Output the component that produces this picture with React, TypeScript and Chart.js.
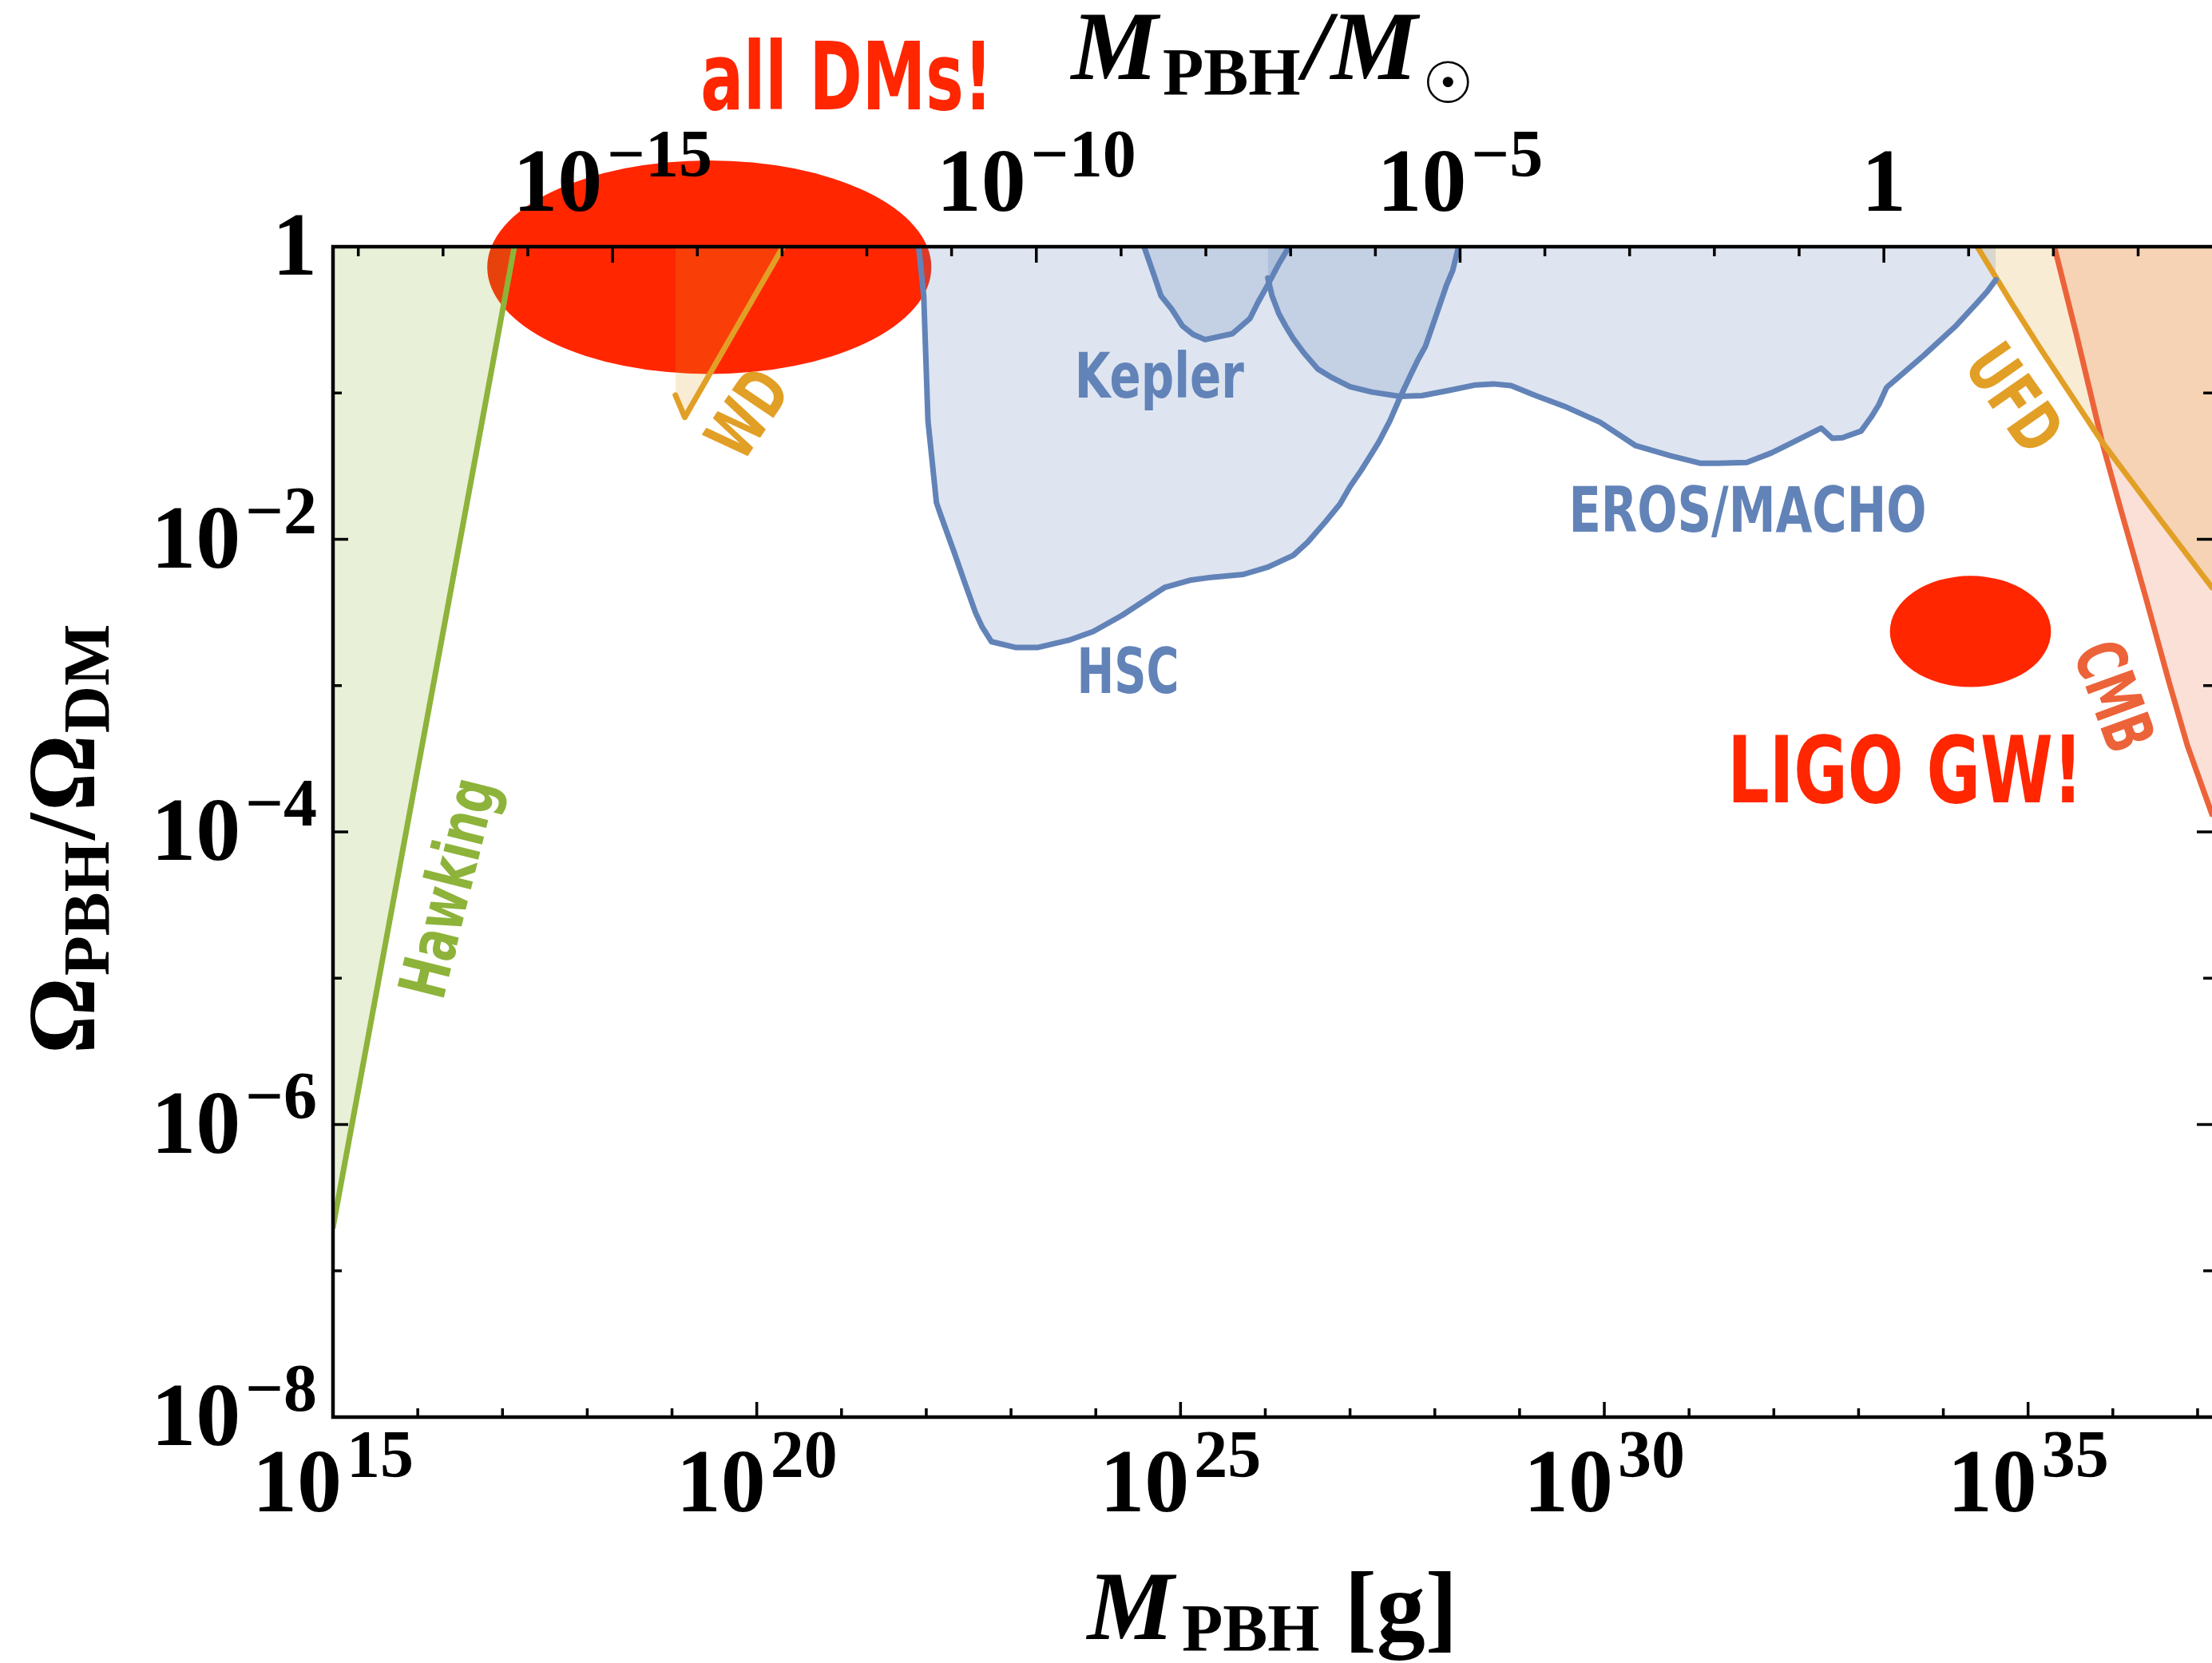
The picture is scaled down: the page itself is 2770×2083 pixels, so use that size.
import React, { useEffect, useRef } from "react";
import { Chart, registerables } from "chart.js";

Chart.register(...registerables);

// ---------------- values (log10 units) ----------------
const LOG_MSUN_G = 33.2986; // log10 of one solar mass in grams

const xMinExp = 15;
const xMaxExp = 37.17;
const yMinExp = -8;
const yMaxExp = 0;

const bottomTickExps = [15, 16, 17, 18, 19, 20, 21, 22, 23, 24, 25, 26, 27, 28, 29, 30, 31, 32, 33, 34, 35, 36, 37];
const bottomLabelExps = [15, 20, 25, 30, 35];
const topTickExps = [-18, -17, -16, -15, -14, -13, -12, -11, -10, -9, -8, -7, -6, -5, -4, -3, -2, -1, 0, 1, 2, 3];
const topLabelExps = [-15, -10, -5, 0];
const yTickExps = [-8, -7, -6, -5, -4, -3, -2, -1, 0];
const yLabelExps = [0, -2, -4, -6, -8];

// Hawking evaporation
const hawkingLogM = [15.0, 17.14];
const hawkingLogF = [-6.7, 0.0];

// White dwarfs
const wdLogM = [19.04, 19.15, 20.31];
const wdLogF = [-1.015, -1.166, 0.0];

// Subaru HSC
const hscLogM = [21.91, 21.97, 22.02, 22.12, 22.18, 22.33, 22.45, 22.58, 22.66, 22.77, 23.06, 23.31, 23.68, 23.97, 24.31, 24.81, 25.11, 25.36, 25.74, 26.03, 26.33, 26.5, 26.71, 26.88, 27.0, 27.13, 27.26, 27.34, 27.47, 27.59, 27.72, 27.8, 27.89, 28.01, 28.14, 28.21, 28.28];
const hscLogF = [0.0, -0.336, -1.19, -1.75, -1.85, -2.09, -2.29, -2.5, -2.6, -2.7, -2.74, -2.74, -2.69, -2.63, -2.52, -2.33, -2.28, -2.26, -2.24, -2.19, -2.11, -2.02, -1.88, -1.76, -1.64, -1.53, -1.41, -1.335, -1.19, -1.03, -0.87, -0.775, -0.68, -0.48, -0.26, -0.165, 0.0];

// Kepler
const keplerLogM = [24.57, 24.69, 24.77, 24.9, 25.02, 25.15, 25.29, 25.61, 25.82, 25.91, 26.03, 26.16, 26.28];
const keplerLogF = [0.0, -0.2, -0.336, -0.43, -0.54, -0.6, -0.635, -0.595, -0.49, -0.385, -0.26, -0.117, 0.0];

// EROS / MACHO
const erosLogM = [26.03, 26.08, 26.16, 26.24, 26.33, 26.455, 26.62, 26.79, 27.0, 27.26, 27.59, 27.85, 28.18, 28.48, 28.69, 28.9, 29.19, 29.53, 29.95, 30.37, 30.79, 31.13, 31.34, 31.68, 31.97, 32.18, 32.56, 32.69, 32.81, 33.03, 33.15, 33.24, 33.33, 33.36, 33.77, 34.15, 34.4, 34.52, 34.62];
const erosLogF = [-0.214, -0.336, -0.458, -0.543, -0.628, -0.726, -0.836, -0.896, -0.957, -0.994, -1.023, -1.018, -0.981, -0.945, -0.938, -0.95, -1.018, -1.091, -1.2, -1.36, -1.43, -1.48, -1.48, -1.475, -1.41, -1.35, -1.24, -1.31, -1.306, -1.26, -1.164, -1.079, -0.963, -0.947, -0.743, -0.54, -0.383, -0.305, -0.226];

// Ultra-faint dwarfs
const ufdLogM = [34.4, 34.81, 35.15, 35.88, 36.5, 37.17];
const ufdLogF = [0.0, -0.39, -0.7, -1.34, -1.82, -2.33];

// CMB
const cmbLogM = [35.31, 35.57, 35.88, 36.1, 36.38, 36.66, 36.88, 37.17];
const cmbLogF = [0.0, -0.6, -1.35, -1.81, -2.38, -2.97, -3.41, -3.88];

// Highlighted regions (centre [logM, logF], half-extent in decades [x, y])
const allDmCenter = [19.44, -0.14];
const allDmHalfSize = [2.62, 0.73];
const ligoCenter = [34.32, -2.63];
const ligoHalfSize = [0.95, 0.38];

// ---------------- styling ----------------
const W = 2770;
const H = 2083;
const RED = "#ff2600";
const GREEN = "#8db33a";
const BLUE = "#6283b8";
const ORANGE = "#e29f26";
const CMBC = "#ec6339";
const SERIF = '"Liberation Serif", "Times New Roman", serif';
const NARROW = '"Liberation Sans Narrow", "DejaVu Sans Condensed", "DejaVu Sans", sans-serif';
const LINE_W = 7;

type Lbl = { text: string; at: [number, number]; color: string; size: number; angle: number; mid: number; width: number };
const textLabels: Lbl[] = [
  { text: "all DMs!", at: [21.06, 0.939], color: RED, size: 118, angle: 0, mid: 0, width: 366 },
  { text: "LIGO GW!", at: [33.55, -3.8], color: RED, size: 116, angle: 0, mid: 0, width: 445 },
  { text: "Kepler", at: [24.75, -1.031], color: BLUE, size: 78, angle: 0, mid: 0, width: 212 },
  { text: "HSC", at: [24.38, -3.05], color: BLUE, size: 78, angle: 0, mid: 0, width: 128 },
  { text: "EROS/MACHO", at: [31.69, -1.948], color: BLUE, size: 78, angle: 0, mid: 0, width: 448 },
  { text: "Hawking", at: [16.42, -4.39], color: GREEN, size: 82, angle: -76, mid: 0.26, width: 280 },
  { text: "WD", at: [19.88, -1.135], color: ORANGE, size: 86, angle: -56, mid: 0.365, width: 112 },
  { text: "UFD", at: [34.85, -1.03], color: ORANGE, size: 86, angle: 55, mid: 0.365, width: 142 },
  { text: "CMB", at: [36.03, -3.07], color: CMBC, size: 86, angle: 70, mid: 0.365, width: 140 },
];

const pts = (ms: number[], fs: number[]) => ms.map((m, i) => ({ x: Math.pow(10, m), y: Math.pow(10, fs[i]) }));
const alpha = (hex: string, a: number) => {
  const n = parseInt(hex.slice(1), 16);
  return `rgba(${(n >> 16) & 255},${(n >> 8) & 255},${n & 255},${a})`;
};

function region(label: string, ms: number[], fs: number[], color: string, a: number) {
  return {
    label,
    data: pts(ms, fs),
    borderColor: color,
    backgroundColor: alpha(color, a),
    borderWidth: LINE_W,
    borderJoinStyle: "round",
    borderCapStyle: "round",
    fill: "end",
    pointRadius: 0,
    tension: 0,
    xAxisID: "x",
    yAxisID: "y",
  };
}

function drawPower(ctx: CanvasRenderingContext2D, exp: number, x: number, baseline: number, align: "center" | "right") {
  const baseFont = `bold 112px ${SERIF}`;
  const supFont = `bold 84px ${SERIF}`;
  const base = exp === 0 ? "1" : "10";
  const sup = exp === 0 ? "" : exp < 0 ? "\u2212" + String(-exp) : String(exp);
  ctx.font = baseFont;
  const wb = ctx.measureText(base).width;
  ctx.font = supFont;
  const ws = sup ? ctx.measureText(sup).width : 0;
  const gap = sup ? 6 : 0;
  const total = wb + gap + ws;
  const x0 = align === "center" ? x - total / 2 : x - total;
  ctx.textAlign = "left";
  ctx.textBaseline = "alphabetic";
  ctx.font = baseFont;
  ctx.fillText(base, x0, baseline);
  if (sup) {
    ctx.font = supFont;
    ctx.fillText(sup, x0 + wb + gap, baseline - 43);
  }
}

type Seg = { text: string; font: string; dy: number; gap: number };
function drawSegments(ctx: CanvasRenderingContext2D, segs: Seg[], cx: number, baseline: number) {
  const widths = segs.map((s) => {
    ctx.font = s.font;
    return ctx.measureText(s.text).width;
  });
  const total = widths.reduce((a, w, i) => a + w + (i < segs.length - 1 ? segs[i].gap : 0), 0);
  let x = cx - total / 2;
  ctx.textAlign = "left";
  ctx.textBaseline = "alphabetic";
  segs.forEach((s, i) => {
    ctx.font = s.font;
    ctx.fillText(s.text, x, baseline + s.dy);
    x += widths[i] + s.gap;
  });
}

const decorPlugin = {
  id: "pbhDecor",
  beforeDraw(chart: any) {
    const ctx: CanvasRenderingContext2D = chart.ctx;
    const xs = chart.scales.x;
    const ys = chart.scales.y;
    ctx.save();
    ctx.fillStyle = "#ffffff";
    ctx.fillRect(0, 0, chart.width, chart.height);
    const ell = (c: number[], r: number[]) => {
      const cx = xs.getPixelForValue(Math.pow(10, c[0]));
      const rx = xs.getPixelForValue(Math.pow(10, c[0] + r[0])) - cx;
      const cy = ys.getPixelForValue(Math.pow(10, c[1]));
      const ry = cy - ys.getPixelForValue(Math.pow(10, c[1] + r[1]));
      ctx.beginPath();
      ctx.ellipse(cx, cy, rx, ry, 0, 0, Math.PI * 2);
      ctx.fillStyle = RED;
      ctx.fill();
    };
    ell(allDmCenter, allDmHalfSize);
    ell(ligoCenter, ligoHalfSize);
    ctx.restore();
  },
  afterDatasetsDraw(chart: any) {
    const ctx: CanvasRenderingContext2D = chart.ctx;
    const { left, right, top, bottom } = chart.chartArea;
    const xs = chart.scales.x;
    const x2 = chart.scales.x2;
    const ys = chart.scales.y;
    ctx.save();
    ctx.strokeStyle = "#000";
    ctx.fillStyle = "#000";

    // ticks (inward)
    ctx.lineWidth = 3.5;
    ctx.beginPath();
    xs.ticks.forEach((t: any) => {
      const p = xs.getPixelForValue(t.value);
      const len = t.major ? 19 : 11;
      ctx.moveTo(p, bottom);
      ctx.lineTo(p, bottom - len);
    });
    x2.ticks.forEach((t: any) => {
      const p = x2.getPixelForValue(t.value);
      const len = t.major ? 20 : 12;
      ctx.moveTo(p, top);
      ctx.lineTo(p, top + len);
    });
    ys.ticks.forEach((t: any) => {
      const p = ys.getPixelForValue(t.value);
      const len = t.major ? 19 : 11;
      ctx.moveTo(left, p);
      ctx.lineTo(left + len, p);
      ctx.moveTo(right, p);
      ctx.lineTo(right - len, p);
    });
    ctx.stroke();

    // frame
    ctx.lineWidth = 4.5;
    ctx.beginPath();
    ctx.moveTo(right + 3, top);
    ctx.lineTo(left, top);
    ctx.lineTo(left, bottom);
    ctx.lineTo(right + 3, bottom);
    ctx.stroke();

    // tick labels
    bottomLabelExps.forEach((e) => drawPower(ctx, e, xs.getPixelForValue(Math.pow(10, e)), bottom + 118, "center"));
    topLabelExps.forEach((e) => drawPower(ctx, e, x2.getPixelForValue(Math.pow(10, e + LOG_MSUN_G)), top - 45, "center"));
    yLabelExps.forEach((e) => drawPower(ctx, e, left - 20, ys.getPixelForValue(Math.pow(10, e)) + 35, "right"));

    // axis titles
    const cxPlot = (left + right) / 2;
    drawSegments(
      ctx,
      [
        { text: "M", font: `bold italic 122px ${SERIF}`, dy: 0, gap: 10 },
        { text: "PBH", font: `bold 84px ${SERIF}`, dy: 15, gap: 0 },
        { text: " [g]", font: `bold 122px ${SERIF}`, dy: 0, gap: 0 },
      ],
      cxPlot,
      2053
    );
    drawSegments(
      ctx,
      [
        { text: "M", font: `bold italic 122px ${SERIF}`, dy: 0, gap: 6 },
        { text: "PBH", font: `bold 84px ${SERIF}`, dy: 20, gap: 4 },
        { text: "/", font: `bold italic 122px ${SERIF}`, dy: 0, gap: 0 },
        { text: "M", font: `bold italic 122px ${SERIF}`, dy: 0, gap: 6 },
        { text: "\u2609", font: `bold 72px "DejaVu Sans", sans-serif`, dy: 30, gap: 0 },
      ],
      cxPlot,
      99
    );
    ctx.save();
    ctx.translate(118, (top + bottom) / 2 + 9);
    ctx.rotate(-Math.PI / 2);
    drawSegments(
      ctx,
      [
        { text: "\u03A9", font: `bold 120px ${SERIF}`, dy: 0, gap: 2 },
        { text: "PBH", font: `bold 82px ${SERIF}`, dy: 18, gap: 2 },
        { text: "/", font: `bold 120px ${SERIF}`, dy: 0, gap: 2 },
        { text: "\u03A9", font: `bold 120px ${SERIF}`, dy: 0, gap: 2 },
        { text: "DM", font: `bold 82px ${SERIF}`, dy: 18, gap: 0 },
      ],
      0,
      0
    );
    ctx.restore();

    // region labels
    textLabels.forEach((l) => {
      const px = xs.getPixelForValue(Math.pow(10, l.at[0]));
      const py = ys.getPixelForValue(Math.pow(10, l.at[1]));
      ctx.save();
      ctx.translate(px, py);
      ctx.rotate((l.angle * Math.PI) / 180);
      ctx.font = `bold ${l.size}px ${NARROW}`;
      const w = ctx.measureText(l.text).width;
      const sx = w > 0 ? Math.min(1.2, l.width / w) : 1;
      ctx.scale(sx, 1);
      ctx.fillStyle = l.color;
      ctx.textAlign = "center";
      ctx.textBaseline = "alphabetic";
      ctx.fillText(l.text, 0, l.size * l.mid);
      ctx.restore();
    });
    ctx.restore();
  },
};

export default function App() {
  const ref = useRef<HTMLCanvasElement | null>(null);
  useEffect(() => {
    if (!ref.current) return;
    const chart = new Chart(ref.current, {
      type: "line",
      data: {
        datasets: [
          region("HSC", hscLogM, hscLogF, BLUE, 0.21),
          region("Kepler", keplerLogM, keplerLogF, BLUE, 0.21),
          region("EROS/MACHO", erosLogM, erosLogF, BLUE, 0.21),
          region("Hawking", hawkingLogM, hawkingLogF, GREEN, 0.2),
          region("WD", wdLogM, wdLogF, ORANGE, 0.2),
          region("UFD", ufdLogM, ufdLogF, ORANGE, 0.2),
          region("CMB", cmbLogM, cmbLogF, CMBC, 0.2),
        ] as any,
      },
      options: {
        animation: false,
        responsive: false,
        devicePixelRatio: 1,
        layout: { padding: 0 },
        plugins: {
          legend: { display: false },
          tooltip: { enabled: false },
          filler: { drawTime: "beforeDatasetsDraw" },
        } as any,
        scales: {
          x: {
            type: "logarithmic",
            position: "bottom",
            min: Math.pow(10, xMinExp),
            max: Math.pow(10, xMaxExp),
            grid: { display: false },
            border: { display: false },
            ticks: { display: false },
            afterBuildTicks: (s: any) => {
              s.ticks = bottomTickExps.map((e) => ({ value: Math.pow(10, e), major: e % 5 === 0 }));
            },
            afterFit: (s: any) => {
              s.height = 308;
            },
          },
          x2: {
            type: "logarithmic",
            axis: "x",
            position: "top",
            min: Math.pow(10, xMinExp),
            max: Math.pow(10, xMaxExp),
            grid: { display: false },
            border: { display: false },
            ticks: { display: false },
            afterBuildTicks: (s: any) => {
              s.ticks = topTickExps.map((e) => ({ value: Math.pow(10, e + LOG_MSUN_G), major: e % 5 === 0 }));
            },
            afterFit: (s: any) => {
              s.height = 309;
            },
          },
          y: {
            type: "logarithmic",
            position: "left",
            min: Math.pow(10, yMinExp),
            max: Math.pow(10, yMaxExp),
            grid: { display: false },
            border: { display: false },
            ticks: { display: false },
            afterBuildTicks: (s: any) => {
              s.ticks = yTickExps.map((e) => ({ value: Math.pow(10, e), major: e % 2 === 0 }));
            },
            afterFit: (s: any) => {
              s.width = 417;
            },
          },
        } as any,
      },
      plugins: [decorPlugin as any],
    });
    return () => chart.destroy();
  }, []);
  return (
    <div style={{ position: "fixed", left: 0, top: 0, width: W, height: H, background: "#fff" }}>
      <canvas ref={ref} width={W} height={H} style={{ display: "block", width: W, height: H }} />
    </div>
  );
}
